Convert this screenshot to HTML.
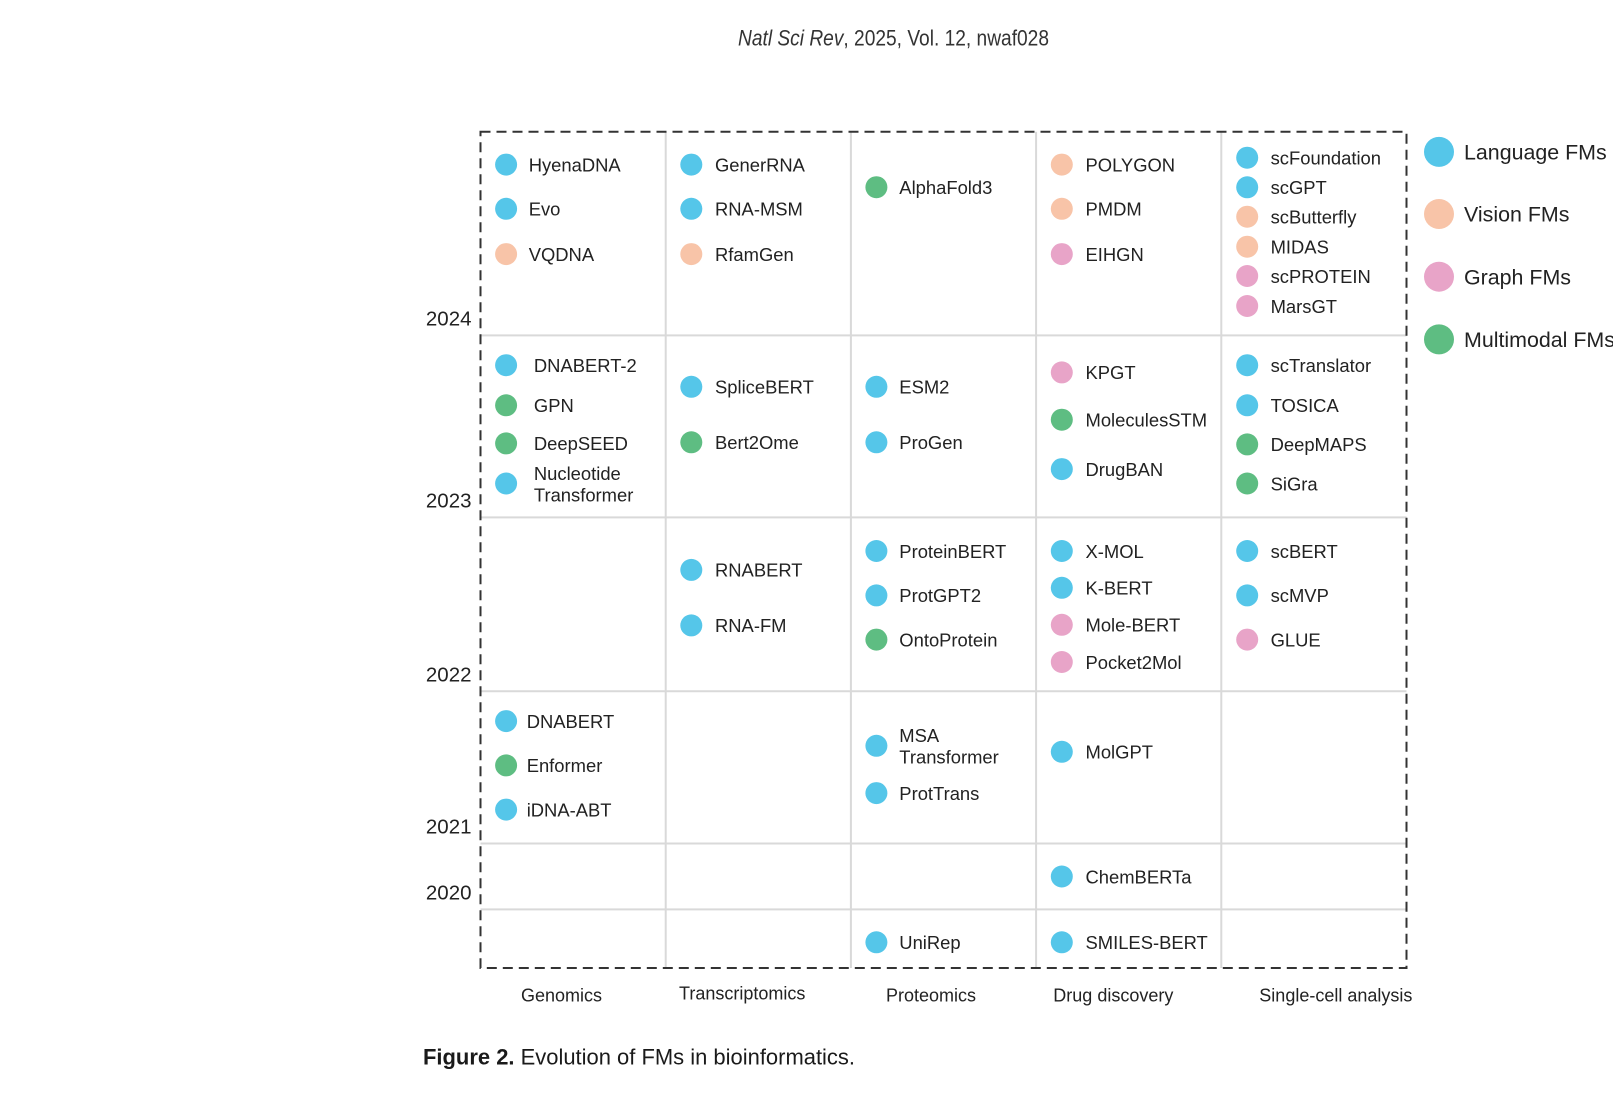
<!DOCTYPE html>
<html>
<head>
<meta charset="utf-8">
<style>
html,body{margin:0;padding:0;background:#fff;}
svg{display:block;}
text{font-family:"Liberation Sans",Arial,sans-serif;fill:#222;}
.c{font-size:18.4px;}
.y{font-size:20.5px;}
.x{font-size:18px;}
.lg{font-size:21.4px;}
</style>
</head>
<body>
<svg width="1613" height="1116" viewBox="0 0 1613 1116" xmlns="http://www.w3.org/2000/svg">
<rect width="1613" height="1116" fill="#fff"/>

<!-- Title -->
<text x="738" y="45.5" font-size="22" textLength="311" lengthAdjust="spacingAndGlyphs" style="fill:#333"><tspan font-style="italic">Natl Sci Rev</tspan>, 2025, Vol. 12, nwaf028</text>

<!-- grid lines -->
<g stroke="#d9d9d9" stroke-width="2">
<line x1="665.7" y1="131.7" x2="665.7" y2="968"/>
<line x1="850.9" y1="131.7" x2="850.9" y2="968"/>
<line x1="1036.1" y1="131.7" x2="1036.1" y2="968"/>
<line x1="1221.3" y1="131.7" x2="1221.3" y2="968"/>
<line x1="480.5" y1="335.4" x2="1406.5" y2="335.4"/>
<line x1="480.5" y1="517.4" x2="1406.5" y2="517.4"/>
<line x1="480.5" y1="691.3" x2="1406.5" y2="691.3"/>
<line x1="480.5" y1="843.5" x2="1406.5" y2="843.5"/>
<line x1="480.5" y1="909.4" x2="1406.5" y2="909.4"/>
</g>
<!-- dashed border -->
<rect x="480.5" y="131.7" width="926" height="836.3" fill="none" stroke="#333" stroke-width="2" stroke-dasharray="10 6"/>

<!-- year labels -->
<g class="y" text-anchor="end">
<text class="y" x="471.5" y="325.4">2024</text>
<text class="y" x="471.5" y="507.4">2023</text>
<text class="y" x="471.5" y="681.3">2022</text>
<text class="y" x="471.5" y="833.5">2021</text>
<text class="y" x="471.5" y="899.4">2020</text>
</g>

<!-- dots -->
<g>
<!-- 2024 -->
<circle cx="506.1" cy="164.6" r="11" fill="#55C6E9"/>
<circle cx="506.1" cy="208.8" r="11" fill="#55C6E9"/>
<circle cx="506.1" cy="254.1" r="11" fill="#F8C4A8"/>
<circle cx="691.3" cy="164.6" r="11" fill="#55C6E9"/>
<circle cx="691.3" cy="208.8" r="11" fill="#55C6E9"/>
<circle cx="691.3" cy="254.1" r="11" fill="#F8C4A8"/>
<circle cx="876.4" cy="187.2" r="11" fill="#5EBD82"/>
<circle cx="1061.8" cy="164.6" r="11" fill="#F8C4A8"/>
<circle cx="1061.8" cy="208.8" r="11" fill="#F8C4A8"/>
<circle cx="1061.8" cy="254.1" r="11" fill="#E8A4C8"/>
<circle cx="1247.2" cy="157.7" r="11" fill="#55C6E9"/>
<circle cx="1247.2" cy="187.3" r="11" fill="#55C6E9"/>
<circle cx="1247.2" cy="216.7" r="11" fill="#F8C4A8"/>
<circle cx="1247.2" cy="246.7" r="11" fill="#F8C4A8"/>
<circle cx="1247.2" cy="276" r="11" fill="#E8A4C8"/>
<circle cx="1247.2" cy="306" r="11" fill="#E8A4C8"/>
<!-- 2023 -->
<circle cx="506.1" cy="365.2" r="11" fill="#55C6E9"/>
<circle cx="506.1" cy="405.3" r="11" fill="#5EBD82"/>
<circle cx="506.1" cy="443.4" r="11" fill="#5EBD82"/>
<circle cx="506.1" cy="483.5" r="11" fill="#55C6E9"/>
<circle cx="691.3" cy="386.8" r="11" fill="#55C6E9"/>
<circle cx="691.3" cy="442.3" r="11" fill="#5EBD82"/>
<circle cx="876.4" cy="386.8" r="11" fill="#55C6E9"/>
<circle cx="876.4" cy="442.3" r="11" fill="#55C6E9"/>
<circle cx="1061.8" cy="372.4" r="11" fill="#E8A4C8"/>
<circle cx="1061.8" cy="419.7" r="11" fill="#5EBD82"/>
<circle cx="1061.8" cy="469.1" r="11" fill="#55C6E9"/>
<circle cx="1247.2" cy="365.2" r="11" fill="#55C6E9"/>
<circle cx="1247.2" cy="405.3" r="11" fill="#55C6E9"/>
<circle cx="1247.2" cy="444.4" r="11" fill="#5EBD82"/>
<circle cx="1247.2" cy="483.5" r="11" fill="#5EBD82"/>
<!-- 2022 -->
<circle cx="691.3" cy="569.9" r="11" fill="#55C6E9"/>
<circle cx="691.3" cy="625.4" r="11" fill="#55C6E9"/>
<circle cx="876.4" cy="551" r="11" fill="#55C6E9"/>
<circle cx="876.4" cy="595.4" r="11" fill="#55C6E9"/>
<circle cx="876.4" cy="639.6" r="11" fill="#5EBD82"/>
<circle cx="1061.8" cy="551" r="11" fill="#55C6E9"/>
<circle cx="1061.8" cy="587.8" r="11" fill="#55C6E9"/>
<circle cx="1061.8" cy="624.8" r="11" fill="#E8A4C8"/>
<circle cx="1061.8" cy="662" r="11" fill="#E8A4C8"/>
<circle cx="1247.2" cy="551" r="11" fill="#55C6E9"/>
<circle cx="1247.2" cy="595.4" r="11" fill="#55C6E9"/>
<circle cx="1247.2" cy="639.6" r="11" fill="#E8A4C8"/>
<!-- 2021 -->
<circle cx="506.1" cy="721.1" r="11" fill="#55C6E9"/>
<circle cx="506.1" cy="765.4" r="11" fill="#5EBD82"/>
<circle cx="506.1" cy="809.6" r="11" fill="#55C6E9"/>
<circle cx="876.4" cy="745.8" r="11" fill="#55C6E9"/>
<circle cx="876.4" cy="793.1" r="11" fill="#55C6E9"/>
<circle cx="1061.8" cy="751.8" r="11" fill="#55C6E9"/>
<!-- 2020 -->
<circle cx="1061.8" cy="876.5" r="11" fill="#55C6E9"/>
<!-- 2019 -->
<circle cx="876.4" cy="942.3" r="11" fill="#55C6E9"/>
<circle cx="1061.8" cy="942.3" r="11" fill="#55C6E9"/>
</g>

<!-- labels -->
<g class="c">
<text class="c" x="528.7" y="171.4">HyenaDNA</text>
<text class="c" x="528.7" y="215.6">Evo</text>
<text class="c" x="528.7" y="260.9">VQDNA</text>
<text class="c" x="715" y="171.4">GenerRNA</text>
<text class="c" x="715" y="215.6">RNA-MSM</text>
<text class="c" x="715" y="260.9">RfamGen</text>
<text class="c" x="899.3" y="194">AlphaFold3</text>
<text class="c" x="1085.5" y="171.4">POLYGON</text>
<text class="c" x="1085.5" y="215.6">PMDM</text>
<text class="c" x="1085.5" y="260.9">EIHGN</text>
<text class="c" x="1270.6" y="164.5">scFoundation</text>
<text class="c" x="1270.6" y="194.1">scGPT</text>
<text class="c" x="1270.6" y="223.5">scButterfly</text>
<text class="c" x="1270.6" y="253.5">MIDAS</text>
<text class="c" x="1270.6" y="282.8">scPROTEIN</text>
<text class="c" x="1270.6" y="312.8">MarsGT</text>

<text class="c" x="533.9" y="372">DNABERT-2</text>
<text class="c" x="533.9" y="412.1">GPN</text>
<text class="c" x="533.9" y="450.2">DeepSEED</text>
<text class="c" x="533.9" y="480">Nucleotide</text>
<text class="c" x="533.9" y="501.6">Transformer</text>
<text class="c" x="715" y="393.6">SpliceBERT</text>
<text class="c" x="715" y="449.1">Bert2Ome</text>
<text class="c" x="899.3" y="393.6">ESM2</text>
<text class="c" x="899.3" y="449.1">ProGen</text>
<text class="c" x="1085.5" y="379.2">KPGT</text>
<text class="c" x="1085.5" y="426.5">MoleculesSTM</text>
<text class="c" x="1085.5" y="475.9">DrugBAN</text>
<text class="c" x="1270.6" y="372">scTranslator</text>
<text class="c" x="1270.6" y="412.1">TOSICA</text>
<text class="c" x="1270.6" y="451.2">DeepMAPS</text>
<text class="c" x="1270.6" y="490.3">SiGra</text>

<text class="c" x="715" y="576.7">RNABERT</text>
<text class="c" x="715" y="632.2">RNA-FM</text>
<text class="c" x="899.3" y="557.8">ProteinBERT</text>
<text class="c" x="899.3" y="602.2">ProtGPT2</text>
<text class="c" x="899.3" y="646.4">OntoProtein</text>
<text class="c" x="1085.5" y="557.8">X-MOL</text>
<text class="c" x="1085.5" y="594.6">K-BERT</text>
<text class="c" x="1085.5" y="631.6">Mole-BERT</text>
<text class="c" x="1085.5" y="668.8">Pocket2Mol</text>
<text class="c" x="1270.6" y="557.8">scBERT</text>
<text class="c" x="1270.6" y="602.2">scMVP</text>
<text class="c" x="1270.6" y="646.4">GLUE</text>

<text class="c" x="526.7" y="727.9">DNABERT</text>
<text class="c" x="526.7" y="772.2">Enformer</text>
<text class="c" x="526.7" y="816.4">iDNA-ABT</text>
<text class="c" x="899.3" y="742">MSA</text>
<text class="c" x="899.3" y="763.6">Transformer</text>
<text class="c" x="899.3" y="799.9">ProtTrans</text>
<text class="c" x="1085.5" y="758.6">MolGPT</text>

<text class="c" x="1085.5" y="883.3">ChemBERTa</text>
<text class="c" x="899.3" y="949.1">UniRep</text>
<text class="c" x="1085.5" y="949.1">SMILES-BERT</text>
</g>

<!-- x labels -->
<text class="x" x="521" y="1001.7">Genomics</text>
<text class="x" x="679" y="999.5">Transcriptomics</text>
<text class="x" x="886" y="1001.7">Proteomics</text>
<text class="x" x="1053.3" y="1001.7">Drug discovery</text>
<text class="x" x="1259.3" y="1001.7">Single-cell analysis</text>

<!-- legend -->
<circle cx="1439" cy="151.9" r="15" fill="#55C6E9"/>
<circle cx="1439" cy="214" r="15" fill="#F8C4A8"/>
<circle cx="1439" cy="276.7" r="15" fill="#E8A4C8"/>
<circle cx="1439" cy="339.4" r="15" fill="#5EBD82"/>
<text class="lg" x="1464" y="159.6">Language FMs</text>
<text class="lg" x="1464" y="221.7">Vision FMs</text>
<text class="lg" x="1464" y="284.4">Graph FMs</text>
<text class="lg" x="1464" y="347.1">Multimodal FMs</text>

<!-- caption -->
<text x="423" y="1064.5" font-size="22.5" textLength="432" lengthAdjust="spacingAndGlyphs" style="fill:#1a1a1a"><tspan font-weight="bold">Figure 2.</tspan> Evolution of FMs in bioinformatics.</text>
</svg>
</body>
</html>
